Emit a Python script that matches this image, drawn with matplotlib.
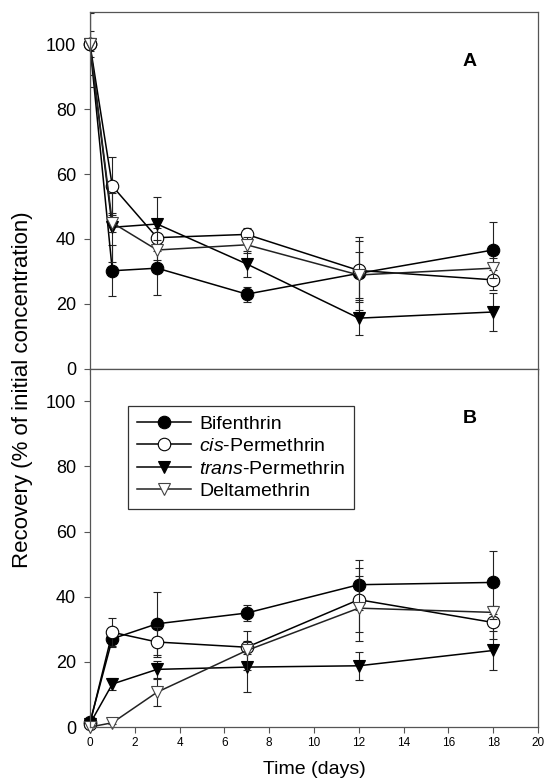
import matplotlib
matplotlib.use("Agg")
import matplotlib.pyplot as plt
import numpy as np

plt.rcParams['font.family'] = ['Liberation Sans', 'DejaVu Sans']
plt.rcParams['mathtext.fontset'] = 'custom'
plt.rcParams['mathtext.rm'] = 'Liberation Sans'
plt.rcParams['mathtext.it'] = 'Liberation Sans:italic'

days = [0, 1, 3, 7, 12, 18]
names = ["Bifenthrin", r"$\it{cis}$-Permethrin", r"$\it{trans}$-Permethrin", "Deltamethrin"]

# panel A: recovery in water (% of initial)
a_bif = [100, 30.2, 31.0, 23.0, 29.4, 36.6]
a_bif_sd = [2, 7.8, 8.3, 2.3, 11.3, 8.7]
a_cis = [100, 56.3, 40.4, 41.4, 30.3, 27.4]
a_cis_sd = [4, 8.8, 3.0, 2.0, 9.2, 3.0]
a_trans = [100, 43.6, 44.6, 32.3, 15.6, 17.5]
a_trans_sd = [9.5, 10.6, 8.4, 4.0, 5.1, 6.0]
a_delta = [100, 45.0, 36.6, 38.2, 28.9, 31.0]
a_delta_sd = [13.3, 3.0, 3.0, 2.5, 7.0, 3.0]

# panel B
b_bif = [1.4, 27.1, 31.7, 35.0, 43.7, 44.4]
b_bif_sd = [0.5, 2.5, 9.7, 2.5, 7.7, 9.8]
b_cis = [1.0, 29.1, 26.1, 24.5, 39.1, 32.1]
b_cis_sd = [0.5, 4.3, 4.7, 2.0, 9.8, 5.0]
b_trans = [1.0, 13.2, 17.7, 18.4, 18.8, 23.5]
b_trans_sd = [0.5, 1.8, 2.6, 7.8, 4.3, 6.0]
b_delta = [0.0, 1.3, 10.7, 23.5, 36.5, 35.2]
b_delta_sd = [0.3, 0.5, 4.1, 6.1, 10.0, 2.0]

styles = [
    dict(marker="o", mfc="black", mec="black", color="black"),
    dict(marker="o", mfc="white", mec="black", color="black"),
    dict(marker="v", mfc="black", mec="black", color="black"),
    dict(marker="v", mfc="white", mec="#444444", color="#222222"),
]

fig = plt.figure(figsize=(5.45, 7.83), dpi=100)
axA = fig.add_axes([0.165, 0.529, 0.822, 0.456])
axB = fig.add_axes([0.165, 0.0715, 0.822, 0.4575])

panels = [
    (axA, [a_bif, a_cis, a_trans, a_delta], [a_bif_sd, a_cis_sd, a_trans_sd, a_delta_sd], "A"),
    (axB, [b_bif, b_cis, b_trans, b_delta], [b_bif_sd, b_cis_sd, b_trans_sd, b_delta_sd], "B"),
]

for ax, series, sds, tag in panels:
    for vals, sd, st, name in zip(series, sds, styles, names):
        ax.errorbar(days, vals, yerr=sd, fmt="none", ecolor="#222222",
                    elinewidth=0.8, capsize=3, capthick=0.8)
        ax.plot(days, vals, lw=1.1, ms=9, mew=0.8,
                clip_on=False, label=name, **st)
    ax.set_xlim(0, 20)
    ax.set_ylim(0, 110)
    ax.set_xticks(np.arange(0, 21, 2))
    ax.set_yticks(np.arange(0, 101, 20))
    ax.tick_params(axis="y", labelsize=13, direction="out", length=4, pad=6,
                   color="#555555")
    ax.tick_params(axis="x", labelsize=8.5, direction="out", length=4, color="#555555")
    for sp in ax.spines.values():
        sp.set_color("#555555")
        sp.set_linewidth(0.9)
    ax.text(0.848, 0.86, tag, transform=ax.transAxes, fontsize=14,
            fontweight="bold", ha="center", va="center")

axA.tick_params(axis="x", labelbottom=False)

leg = axB.legend(loc="upper left", bbox_to_anchor=(0.085, 0.895), fontsize=14,
                 frameon=True, fancybox=False, edgecolor="black",
                 handlelength=2.8, labelspacing=0.25, borderpad=0.45,
                 handletextpad=0.4, borderaxespad=0)
leg.get_frame().set_linewidth(0.9)

axB.set_xlabel("Time (days)", fontsize=14, labelpad=8)
fig.text(0.041, 0.502, "Recovery (% of initial concentration)", rotation=90,
         fontsize=16, ha="center", va="center")

fig.savefig("out.png", dpi=100)
